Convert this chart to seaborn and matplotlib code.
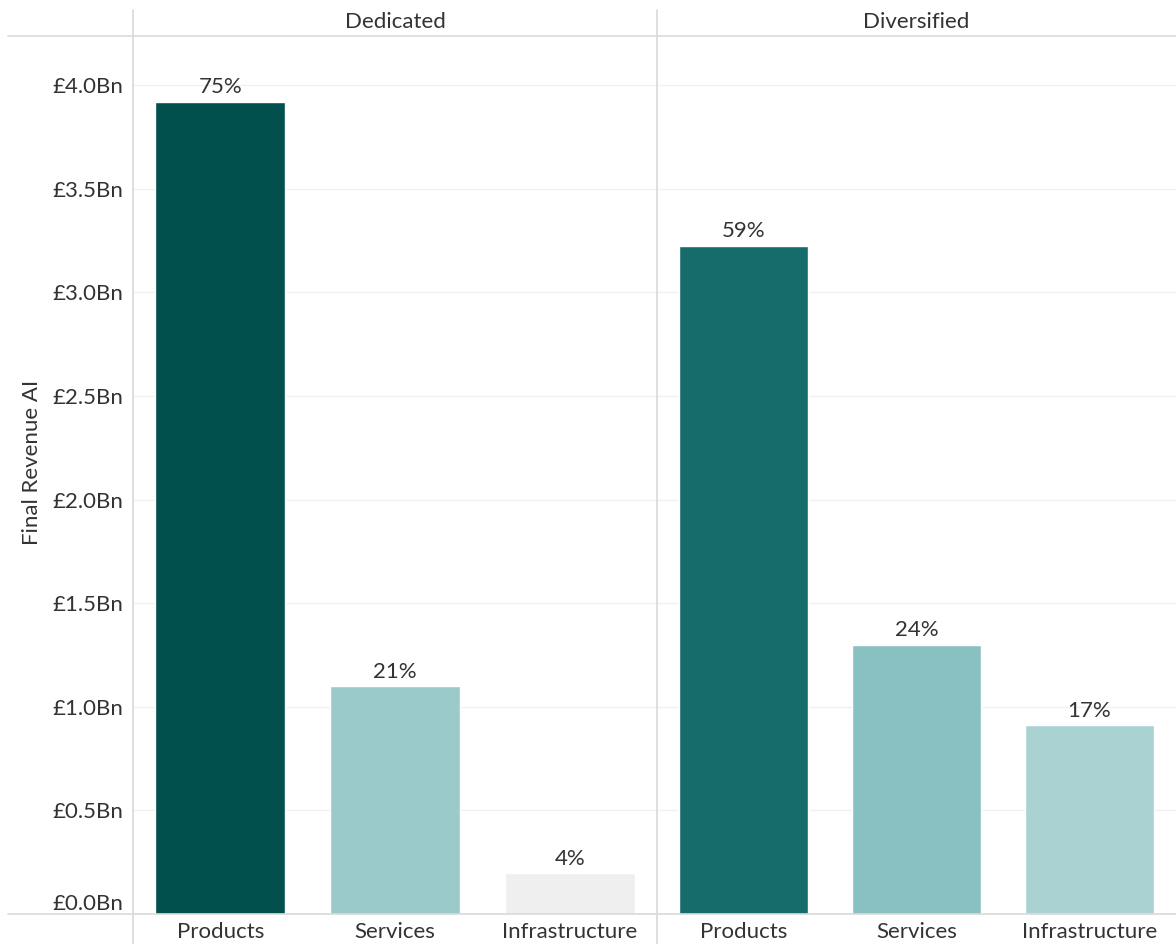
import matplotlib
matplotlib.use("Agg")
import matplotlib.pyplot as plt
from matplotlib.lines import Line2D
import seaborn as sns
import pandas as pd

# data (values in £Bn)
categories = ["Products", "Services", "Infrastructure"]
dedicated_revenue = [3.92, 1.10, 0.198]
diversified_revenue = [3.225, 1.30, 0.91]
panel_names = ["Dedicated", "Diversified"]
dedicated_colors = ["#02504E", "#9ACACA", "#EFEFEF"]
diversified_colors = ["#166C6B", "#89C1C2", "#ABD2D3"]
y_ticks = [0.0, 0.5, 1.0, 1.5, 2.0, 2.5, 3.0, 3.5, 4.0]

sns.set_style("white")
plt.rcParams['font.family'] = ['Lato', 'DejaVu Sans']

W, H = 1176, 944
fig = plt.figure(figsize=(W / 100, H / 100), dpi=100)

top, base = 36, 914
x_edges = [133, 657, 1176]
line_col = "#D9D9D9"
text_col = "#333333"
fs = 16
ymax = 4.0 + (85 - 36) / 207.2


def px_box(x0, x1):
    return [x0 / W, (H - base) / H, (x1 - x0) / W, (base - top) / H]


panels = [
    (panel_names[0], dedicated_revenue, dedicated_colors),
    (panel_names[1], diversified_revenue, diversified_colors),
]

for i, (name, values, colors) in enumerate(panels):
    ax = fig.add_axes(px_box(x_edges[i], x_edges[i + 1]))
    df = pd.DataFrame({"category": categories, "revenue": values})
    sns.barplot(data=df, x="category", y="revenue", hue="category",
                palette=colors, legend=False, width=0.745, ax=ax,
                saturation=1)
    ax.set_xlim(-0.5, 2.5)
    ax.set_ylim(0, ymax)
    ax.set_yticks(y_ticks)
    ax.grid(axis="y", color="#F0F0F0", linewidth=1)
    ax.set_axisbelow(True)
    for s in ax.spines.values():
        s.set_visible(False)
    ax.tick_params(length=0, labelsize=fs, colors=text_col)
    ax.tick_params(axis="x", pad=6)
    ax.set_xlabel("")
    ax.set_ylabel("")
    if i == 0:
        ax.set_yticklabels([f"£{t:.1f}Bn" for t in y_ticks])
        ax.tick_params(axis="y", pad=7)
        ax.get_yticklabels()[0].set_va("bottom")
    else:
        ax.set_yticklabels([])

    total = sum(values)
    for cont in ax.containers:
        labels = [f"{round(v / total * 100):.0f}%" for v in cont.datavalues]
        ax.bar_label(cont, labels=labels, padding=3, fontsize=fs,
                     color=text_col)

    cx = (x_edges[i] + x_edges[i + 1]) / 2
    fig.text(cx / W, 1 - 22 / H, name, ha="center", va="center",
             fontsize=fs, color=text_col)

fig.text(32 / W, 1 - 462 / H, "Final Revenue AI", rotation=90,
         ha="center", va="center", fontsize=fs, color=text_col)

# frame lines of the panel layout
for y in (top, base):
    fig.add_artist(Line2D([8 / W, 1], [1 - y / H, 1 - y / H],
                          color=line_col, linewidth=1.2))
for x in x_edges[:2]:
    fig.add_artist(Line2D([x / W, x / W], [0, 1 - 10 / H],
                          color=line_col, linewidth=1.2))

fig.savefig("out.png", dpi=100)
